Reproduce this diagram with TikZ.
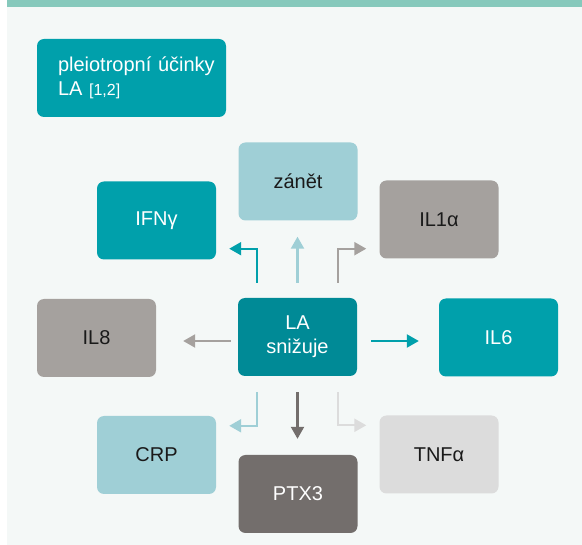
\documentclass[tikz,border=0pt]{standalone}
\usepackage{fontspec}
\setmainfont{Liberation Sans}
\usetikzlibrary{arrows.meta}

\definecolor{barcol}{HTML}{86C9BC}
\definecolor{bgcol}{HTML}{F4F8F7}
\definecolor{tealcol}{HTML}{00A0AB}
\definecolor{lacol}{HTML}{008A96}
\definecolor{lightcol}{HTML}{9FCFD6}
\definecolor{graycol}{HTML}{A5A19E}
\definecolor{palecol}{HTML}{DCDCDC}
\definecolor{darkcol}{HTML}{736E6C}
\definecolor{inkcol}{HTML}{1A1A1A}

\newcommand\boxw{119pt}
\newcommand\boxh{78pt}
\newcommand\armx{40.5pt}

\tikzset{
  cellbox/.style={rounded corners=7pt, inner sep=0pt, minimum width=\boxw,
    minimum height=\boxh, align=center, font=\fontsize{20}{24}\selectfont},
  darkbox/.style={cellbox, fill=#1, text=white},
  lightbox/.style={cellbox, fill=#1, text=inkcol},
  arrow/.style={draw=#1, line width=2.2pt,
    -{Triangle[length=12pt,width=13pt,fill=#1]}},
}

\begin{document}
\begin{tikzpicture}[x=1pt,y=1pt]
    \useasboundingbox (0,0) rectangle (582,-545);
    \fill[bgcol] (7,0) rectangle (582,-545);
    \fill[barcol] (7,0) rectangle (582,-7);

    \node[rounded corners=7pt, fill=tealcol, text=white, minimum height=\boxh,
      inner xsep=21pt, inner ysep=0pt, text width=147pt, align=left,
      font=\fontsize{20}{24}\selectfont] (title) at (131.5,-78)
      {\mbox{pleiotropní účinky}\\LA {\fontsize{16}{24}\selectfont[1,2]}};

    % centre
    \node[darkbox=lacol] (la) at (297.5,-337) {LA\\snižuje};

    % upper row
    \node[lightbox=lightcol] (zanet) at (298,-181.5) {zánět};
    \node[darkbox=tealcol] (ifn) at (156.5,-220.5) {IFNγ};
    \node[lightbox=graycol] (ilone) at (439,-219.5) {IL1α};

    % middle row
    \node[lightbox=graycol] (ileight) at (96.5,-338) {IL8};
    \node[darkbox=tealcol] (ilsix) at (498.5,-337.5) {IL6};

    % lower row
    \node[lightbox=lightcol] (crp) at (156.5,-455) {CRP};
    \node[darkbox=darkcol] (ptx) at (298,-494) {PTX3};
    \node[lightbox=palecol] (tnf) at (439,-454.5) {TNFα};

    % arrows up
    \draw[arrow=tealcol, shorten <=15pt, shorten >=13pt]
      ([xshift=-\armx]la.north) |- ([yshift=11pt]ifn.south east);
    \draw[arrow=lightcol, shorten <=15pt, shorten >=16pt]
      (la.north) -- (la.north |- zanet.south);
    \draw[arrow=graycol, shorten <=15pt, shorten >=13pt]
      ([xshift=\armx]la.north) |- ([yshift=10pt]ilone.south west);

    % arrows sideways
    \draw[arrow=graycol, shorten <=7pt, shorten >=27pt]
      ([yshift=-4pt]la.west) -- ([yshift=-4pt]la.west -| ileight.east);
    \draw[arrow=tealcol, shorten <=14pt, shorten >=20pt]
      ([yshift=-4pt]la.east) -- ([yshift=-4pt]la.east -| ilsix.west);

    % arrows down
    \draw[arrow=lightcol, shorten <=16pt, shorten >=13pt]
      ([xshift=-\armx]la.south) |- ([yshift=-10pt]crp.north east);
    \draw[arrow=darkcol, shorten <=16pt, shorten >=16pt]
      (la.south) -- (la.south |- ptx.north);
    \draw[arrow=palecol, shorten <=16pt, shorten >=13pt]
      ([xshift=\armx]la.south) |- ([yshift=-10pt]tnf.north west);

  \end{tikzpicture}
\end{document}
